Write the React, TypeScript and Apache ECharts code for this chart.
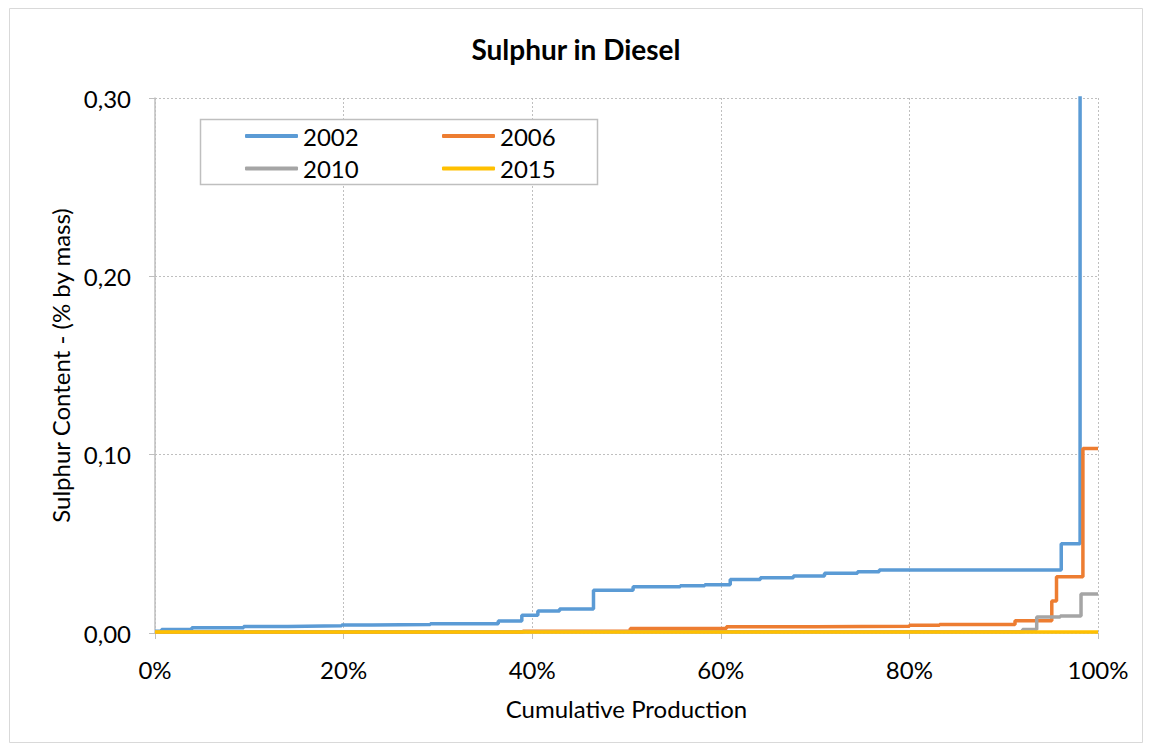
import React, { useEffect, useRef } from "react";
import * as echarts from "echarts";

const seriesNames = ["2002", "2006", "2010", "2015"];
const seriesColors = ["#5B9BD5", "#ED7D31", "#A5A5A5", "#FFC000"];

// cumulative production (%) where each step starts
const x2002 = [0, 0.7, 3.9, 9.4, 14.1, 19.8, 23, 29.2, 36.4, 38.9, 40.6, 42.9, 46.5, 50.7, 55.7, 58.3, 61, 64.2, 67.7, 71, 74.5, 76.8, 96.1, 98.1, 100];
const y2002 = [0.001, 0.002, 0.003, 0.0037, 0.004, 0.0045, 0.0048, 0.0052, 0.0067, 0.0099, 0.0123, 0.0135, 0.024, 0.026, 0.0265, 0.027, 0.03, 0.031, 0.032, 0.0335, 0.0344, 0.0353, 0.05, 0.6, 0.6];

const x2006 = [0, 39, 50.4, 60.6, 70, 80, 83.2, 91.2, 95.1, 95.6, 98.4, 100];
const y2006 = [0.0005, 0.001, 0.0025, 0.0035, 0.0038, 0.0043, 0.0048, 0.0069, 0.018, 0.0316, 0.1035, 0.1035];

const x2010 = [0, 92, 93.5, 96, 98.2, 100];
const y2010 = [0.0007, 0.002, 0.009, 0.0095, 0.0219, 0.0219];

const x2015 = [0, 100];
const y2015 = [0.0006, 0.0006];

const xTicks = [0, 20, 40, 60, 80, 100];
const yTicks = [0, 0.1, 0.2, 0.3];

const FONT = "Lato, 'Open Sans', sans-serif";
const FS = 24;

function pairs(xs: number[], ys: number[]) {
  return xs.map((x, i) => [x, ys[i]]);
}

export default function App() {
  const ref = useRef<HTMLDivElement>(null);
  useEffect(() => {
    if (!ref.current) return;
    const chart = echarts.init(ref.current, undefined, { renderer: "svg" });
    const data = [pairs(x2002, y2002), pairs(x2006, y2006), pairs(x2010, y2010), pairs(x2015, y2015)];
    const legendCommon = {
      orient: "vertical",
      top: 119,
      icon: "roundRect",
      itemWidth: 53,
      itemHeight: 4,
      itemGap: 8.5,
      textStyle: { fontFamily: FONT, fontSize: FS, color: "#000" },
      z: 4,
    };
    chart.setOption({
      animation: false,
      backgroundColor: "#fff",
      textStyle: { fontFamily: FONT },
      title: {
        text: "Sulphur in Diesel",
        left: "center",
        top: 30,
        textStyle: { fontFamily: FONT, fontSize: 28, fontWeight: "bold", color: "#000" },
      },
      graphic: [
        {
          type: "rect",
          shape: { x: 9.5, y: 8.5, width: 1133, height: 734 },
          style: { fill: "none", stroke: "#D9D9D9", lineWidth: 1 },
          z: 0,
        },
        {
          type: "rect",
          shape: { x: 200.5, y: 119.5, width: 397, height: 65 },
          style: { fill: "#fff", stroke: "#BFBFBF", lineWidth: 1.5 },
          z: 3,
        },
      ],
      legend: [
        { ...legendCommon, data: ["2002", "2010"], left: 240 },
        { ...legendCommon, data: ["2006", "2015"], left: 437 },
      ],
      grid: { left: 155, right: 54, top: 98, bottom: 118 },
      xAxis: {
        type: "value",
        min: 0,
        max: 100,
        interval: 20,
        name: "Cumulative Production",
        nameLocation: "middle",
        nameGap: 63,
        nameTextStyle: { fontFamily: FONT, fontSize: FS, color: "#000" },
        axisLine: { show: true, lineStyle: { color: "#BFBFBF", width: 1.5 } },
        axisTick: { show: true, length: 6, lineStyle: { color: "#BFBFBF" } },
        axisLabel: {
          fontFamily: FONT,
          fontSize: FS,
          color: "#000",
          margin: 24,
          formatter: (v: number) => (xTicks.includes(v) ? `${v}%` : ""),
        },
        splitLine: { show: true, lineStyle: { color: "#BFBFBF", type: [2, 2], width: 1 } },
      },
      yAxis: {
        type: "value",
        min: 0,
        max: 0.3,
        interval: 0.1,
        name: "Sulphur Content - (% by mass)",
        nameLocation: "middle",
        nameGap: 81,
        nameTextStyle: { fontFamily: FONT, fontSize: FS, color: "#000" },
        axisLine: { show: true, lineStyle: { color: "#BFBFBF", width: 1.5 } },
        axisTick: { show: true, length: 6, lineStyle: { color: "#BFBFBF" } },
        axisLabel: {
          fontFamily: FONT,
          fontSize: FS,
          color: "#000",
          margin: 24,
          formatter: (v: number) => {
            const t = yTicks.find((y) => Math.abs(y - v) < 1e-9);
            return t === undefined ? "" : t.toFixed(2).replace(".", ",");
          },
        },
        splitLine: { show: true, lineStyle: { color: "#BFBFBF", type: [2, 2], width: 1 } },
      },
      series: seriesNames.map((name, i) => ({
        name,
        type: "line",
        step: "end",
        symbol: "none",
        clip: true,
        data: data[i],
        color: seriesColors[i],
        lineStyle: { color: seriesColors[i], width: 3.5 },
        z: 2,
      })),
    });
    return () => chart.dispose();
  }, []);
  return (
    <div
      ref={ref}
      style={{ position: "fixed", left: 0, top: 0, width: 1152, height: 751 }}
    />
  );
}
